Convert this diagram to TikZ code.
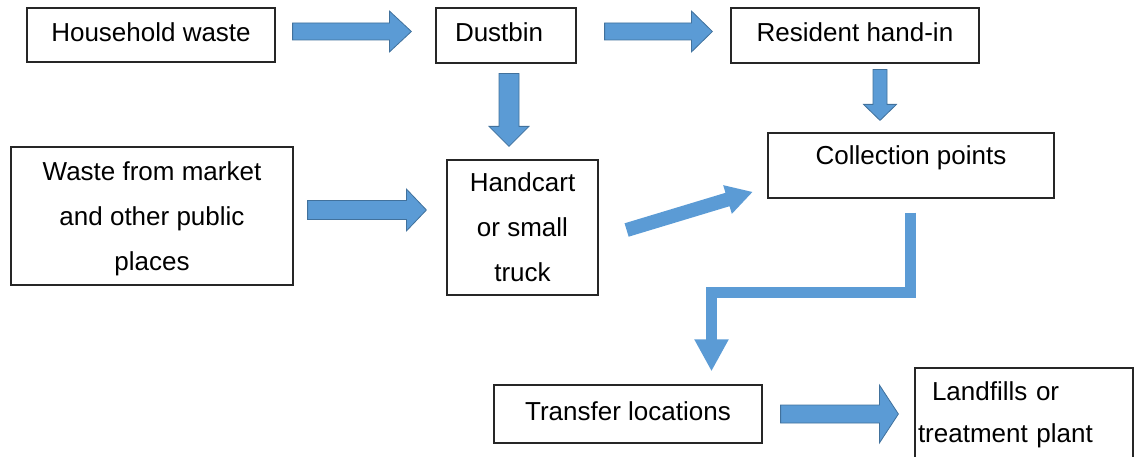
\documentclass[tikz,border=0pt]{standalone}
\usepackage{fontspec}
\setmainfont{Liberation Sans}
\usetikzlibrary{calc,arrows.meta}

\definecolor{flowblue}{HTML}{5B9BD5}
\definecolor{flowedge}{HTML}{41719C}

\tikzset{
  box/.style={draw=black!85, line width=1.2pt, rectangle, inner sep=0pt,
    font=\fontsize{26}{45}\selectfont, text=black},
  oneline/.style={text height=19pt, text depth=6pt},
  blockfill/.style={fill=flowblue, draw=flowedge, line width=0.8pt, line join=miter},
  bentflow/.style={draw=flowblue, line width=11pt, line join=miter,
    -{Triangle[width=32pt,length=32pt]}},
}

% block arrow: [style] start, end, shaft half-width, head half-width, head length
\newcommand\blockarrow[6][]{%
  \coordinate (ba-base) at ($(#3)!#6!(#2)$);
  \path[blockfill,#1]
    ($(#2)!#4!90:(#3)$) -- ($(ba-base)!#4!90:(#3)$) -- ($(ba-base)!#5!90:(#3)$)
    -- (#3)
    -- ($(ba-base)!#5!-90:(#3)$) -- ($(ba-base)!#4!-90:(#3)$) -- ($(#2)!#4!-90:(#3)$)
    -- cycle;
}

\begin{document}
\begin{tikzpicture}[x=1pt,y=-1pt]
\clip (0,0) rectangle (1136,457);

% boxes
\node[box, oneline, minimum width=248pt, minimum height=54pt] (hw) at (151,35) {Household waste};
\node[box, oneline, text width=102pt, inner xsep=19pt, align=left, minimum height=55pt] (db) at (506,35.5) {Dustbin};
\node[box, oneline, minimum width=248pt, minimum height=55pt] (rh) at (855,35.5) {Resident hand-in};
\node[box, text height=19pt, text depth=20pt, minimum width=286pt, minimum height=65pt] (cp) at (911,165.5) {Collection points};
\node[box, align=center, minimum width=282pt, minimum height=138pt] (wm) at (152,216)
  {\rule{0pt}{25pt}Waste from market\\and other public\\places};
\node[box, align=center, minimum width=151pt, minimum height=135pt] (hc) at (522.5,227.5)
  {Handcart\\or small\\truck};
\node[box, oneline, minimum width=268pt, minimum height=58pt] (tl) at (628,414) {Transfer locations};
\node[box, font=\fontsize{26}{42}\selectfont, align=left, text width=212pt, inner xsep=3pt, minimum height=94pt] (lf) at (1024,415)
  {\hspace*{14pt}Landfills or\\treatment plant};

% arrow end points
\coordinate (s1) at ($(hw.east)+(17,-3.5)$);
\coordinate (e1) at ($(db.west)+(-24,-4)$);
\coordinate (s2) at ($(db.east)+(28,-4)$);
\coordinate (e2) at ($(rh.west)+(-18,-4)$);
\coordinate (s3) at ($(db.south)+(3,10)$);
\coordinate (e3) at ($(hc.north)+(-13.5,-13)$);
\coordinate (s4) at ($(rh.south)+(25,6)$);
\coordinate (e4) at ($(cp.north)+(-31,-12)$);
\coordinate (s5) at ($(wm.east)+(14,-6)$);
\coordinate (e5) at ($(hc.west)+(-20,-17.5)$);
\coordinate (s6) at ($(hc.east)+(28,2.5)$);
\coordinate (e6) at ($(cp.west)+(-15,26.5)$);
\coordinate (s7) at ($(cp.south)+(-0.5,14)$);
\coordinate (c7) at ($(s7)+(0,80)$);
\coordinate (e7) at ($(tl.north)+(83.5,-13)$);
\coordinate (s8) at ($(tl.east)+(18,0)$);
\coordinate (e8) at ($(lf.west)+(-16,-1)$);

% arrows
\blockarrow{s1}{e1}{8.5pt}{20.5pt}{22pt}
\blockarrow{s2}{e2}{8.5pt}{20.5pt}{21pt}
\blockarrow{s3}{e3}{10pt}{20pt}{20pt}
\blockarrow{s4}{e4}{7pt}{16.5pt}{16pt}
\blockarrow{s5}{e5}{9.5pt}{21pt}{20pt}
\blockarrow[draw=none]{s6}{e6}{7pt}{15pt}{26pt}
\draw[bentflow] (s7) -- (c7) -| (e7);
\blockarrow{s8}{e8}{9pt}{29pt}{19pt}
\end{tikzpicture}
\end{document}
